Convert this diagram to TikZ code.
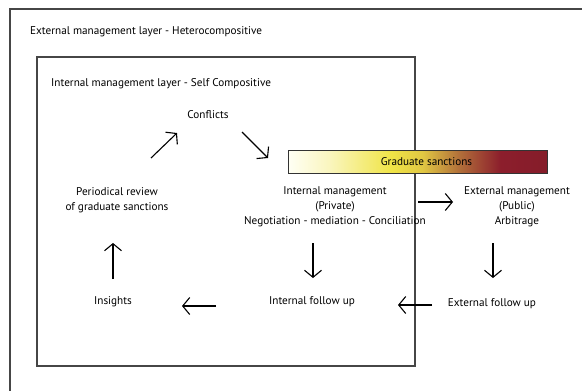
\documentclass[tikz,border=0pt]{standalone}
\usepackage{fontspec}
\setmainfont{PT Sans}
\usepackage{tikz}
\usetikzlibrary{arrows.meta}
\usetikzlibrary{calc}
\definecolor{framegray}{RGB}{70,70,70}
\definecolor{sancred}{RGB}{140,30,44}
\definecolor{sancyellow}{RGB}{240,228,70}
\definecolor{sancbrown}{RGB}{178,112,58}
% colour ramp of the sanctions bar (the path is mapped on 25bp--75bp)
\pgfdeclarehorizontalshading{sanctionramp}{100bp}{color(0bp)=(white); color(25bp)=(white!96!yellow); color(33bp)=(sancyellow!35!white); color(45bp)=(sancyellow); color(51bp)=(sancyellow!75!sancbrown); color(58bp)=(sancbrown); color(66bp)=(sancred); color(75bp)=(sancred!95!black); color(100bp)=(sancred!95!black)}
\tikzset{
	lbl/.style={font=\fontsize{11.2}{15}\selectfont, align=center, inner sep=0pt},
	arr/.style={line width=1.1pt, -{Straight Barb[length=7pt,width=17pt,line width=1.1pt]}},
}

\begin{document}
\begin{tikzpicture}[x=1pt,y=-1pt]
	\useasboundingbox (0,0) rectangle (582,391);
	
	%outer layer (only top and left edges are in view)
	\draw[framegray, line width=1.4pt] (582,9)--(10,9)--(10,391);
	\node[lbl, anchor=west] (extlayer) at (30,32) {External management layer - Heterocompositive};
	
	%inner layer
	\draw[framegray, line width=1.3pt] (37,57) rectangle (415,366);
	\node[lbl, anchor=west] (intlayer) at (51,84) {Internal management layer - Self Compositive};
	
	%sanctions bar
	\shade[shading=sanctionramp] (288,150) rectangle (547,173);
	\node[draw=black!80, line width=1pt, minimum width=259pt, minimum height=23pt, inner sep=0pt, font=\fontsize{11.2}{12}\selectfont] (sanctions) at (417.5,161.5) {\hspace{18pt}Graduate sanctions};
	
	%the cycle
	\node[lbl] (conflicts) at (208,115) {Conflicts};
	\node[lbl] (periodical) at (117,200) {Periodical review\\of graduate sanctions};
	\node[lbl] (intmgmt) at (335,207) {Internal management\\(Private)\\Negotiation - mediation - Conciliation};
	\node[lbl] (extmgmt) at (517,207) {External management\\(Public)\\Arbitrage};
	\node[lbl] (insights) at (113,302) {Insights};
	\node[lbl] (intfollow) at (312,302) {Internal follow up};
	\node[lbl] (extfollow) at (492,304) {External follow up};
	
	%arrows (they float free of the texts)
	\draw[arr] (periodical) ++(34,-42) -- ++(26,-25);
	\draw[arr] (conflicts) ++(34,17) -- ++(26,26);
	\draw[arr] (intmgmt) ++(83,-5) -- ++(35,0);
	\draw[arr] (intmgmt) ++(-22,36) -- ++(0,35);
	\draw[arr] (extmgmt) ++(-24,36) -- ++(0,35);
	\draw[arr] (extfollow) ++(-60,1) -- ++(-34,0);
	\draw[arr] (intfollow) ++(-96,4) -- ++(-34,0);
	\draw[arr] (insights) ++(0,-23) -- ++(0,-36);
\end{tikzpicture}
\end{document}
